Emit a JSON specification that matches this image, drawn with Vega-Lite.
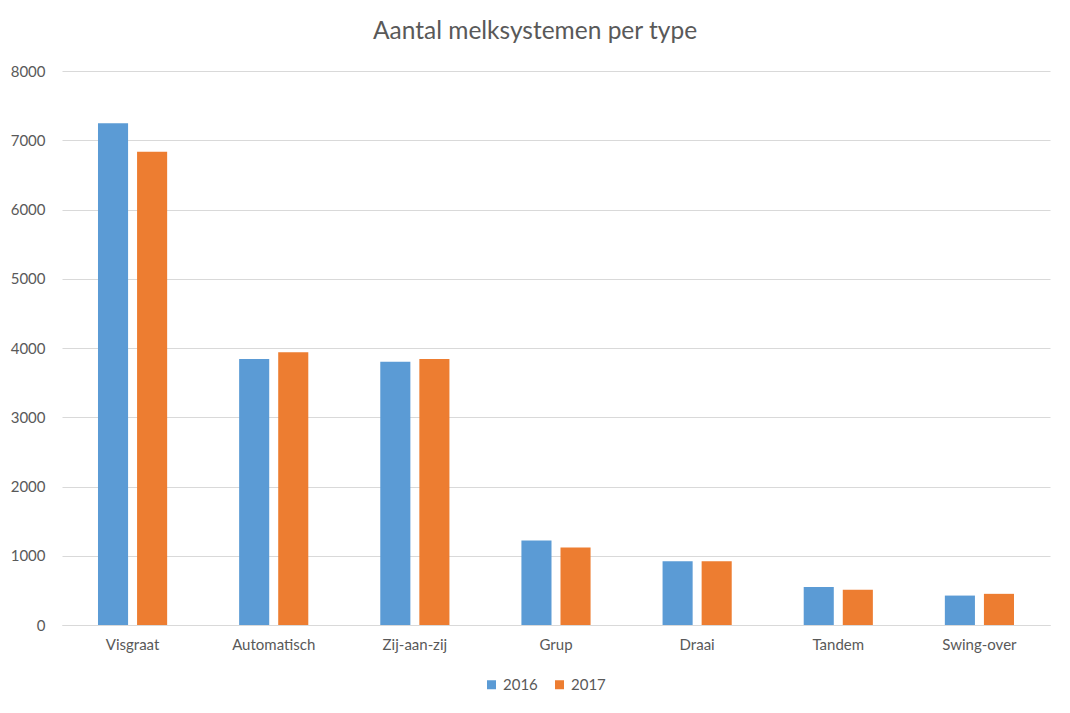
{
  "$schema": "https://vega.github.io/schema/vega-lite/v6.json",
  "autosize": {"type": "none"},
  "width": 988,
  "height": 554,
  "padding": {"left": 62, "top": 71, "right": 20, "bottom": 88},
  "background": "white",
  "title": {
    "text": "Aantal melksystemen per type",
    "fontSize": 24.5,
    "font": "Lato",
    "fontWeight": "normal",
    "color": "#595959",
    "offset": 20,
    "dx": -21
  },
  "data": {
    "values": [
      {"type": "Visgraat", "year": "2016", "count": 7245},
      {"type": "Visgraat", "year": "2017", "count": 6835},
      {"type": "Automatisch", "year": "2016", "count": 3840},
      {"type": "Automatisch", "year": "2017", "count": 3940},
      {"type": "Zij-aan-zij", "year": "2016", "count": 3800},
      {"type": "Zij-aan-zij", "year": "2017", "count": 3840},
      {"type": "Grup", "year": "2016", "count": 1220},
      {"type": "Grup", "year": "2017", "count": 1120},
      {"type": "Draai", "year": "2016", "count": 920},
      {"type": "Draai", "year": "2017", "count": 920},
      {"type": "Tandem", "year": "2016", "count": 550},
      {"type": "Tandem", "year": "2017", "count": 510},
      {"type": "Swing-over", "year": "2016", "count": 425},
      {"type": "Swing-over", "year": "2017", "count": 450}
    ]
  },
  "mark": "bar",
  "encoding": {
    "x": {
      "field": "type",
      "type": "nominal",
      "sort": null,
      "title": null,
      "scale": {"paddingInner": 0.51, "paddingOuter": 0.255},
      "axis": {
        "labelAngle": 0,
        "ticks": false,
        "domainColor": "#d9d9d9",
        "labelPadding": 12
      }
    },
    "xOffset": {
      "field": "year",
      "type": "nominal",
      "scale": {"paddingInner": 0.23}
    },
    "y": {
      "field": "count",
      "type": "quantitative",
      "title": null,
      "scale": {"domain": [0, 8000], "nice": false},
      "axis": {
        "values": [0, 1000, 2000, 3000, 4000, 5000, 6000, 7000, 8000],
        "format": "d",
        "domain": false,
        "ticks": false,
        "gridColor": "#d9d9d9",
        "labelPadding": 17
      }
    },
    "color": {
      "field": "year",
      "type": "nominal",
      "title": null,
      "scale": {"range": ["#5b9bd5", "#ed7d31"]},
      "legend": {
        "orient": "none",
        "direction": "horizontal",
        "legendX": 422,
        "legendY": 606,
        "symbolType": "square",
        "symbolSize": 81,
        "symbolStrokeWidth": 0,
        "columnPadding": 14,
        "labelOffset": 4
      }
    }
  },
  "config": {
    "view": {"stroke": null},
    "font": "Lato",
    "axis": {
      "labelFont": "Lato",
      "labelFontSize": 15,
      "labelColor": "#595959"
    },
    "legend": {
      "labelFont": "Lato",
      "labelFontSize": 15,
      "labelColor": "#595959"
    }
  }
}
